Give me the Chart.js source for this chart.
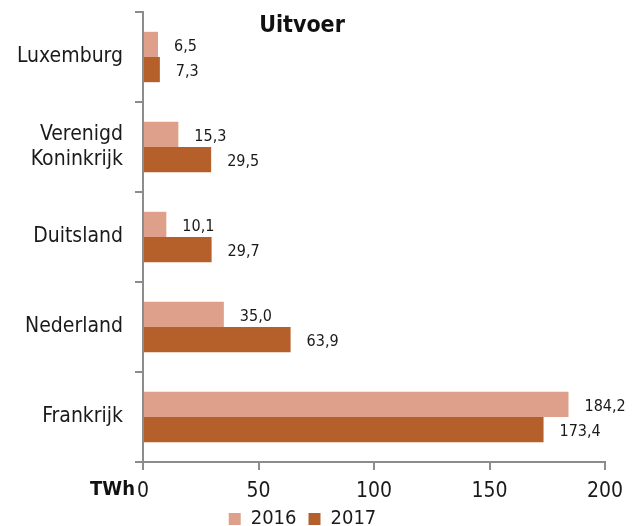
<!DOCTYPE html>
<html>
<head>
<meta charset="utf-8">
<script src="https://cdn.jsdelivr.net/npm/chart.js@4/dist/chart.umd.min.js"></script>
<style>
  html, body { margin: 0; padding: 0; background: #fff; }
  #wrap { width: 644px; height: 526px; }
</style>
</head>
<body>
<div id="wrap"><canvas id="chartUitvoer"></canvas></div>
<script>
const categories = ['Luxemburg', ['Verenigd', 'Koninkrijk'], 'Duitsland', 'Nederland', 'Frankrijk'];
const seriesNames = ['2016', '2017'];
const values2016 = [6.5, 15.3, 10.1, 35.0, 184.2];
const values2017 = [7.3, 29.5, 29.7, 63.9, 173.4];
const xTicks = [0, 50, 100, 150, 200];

const FONT = '"Liberation Sans Narrow", "DejaVu Sans Condensed", "Liberation Sans", sans-serif';
const axisGray = '#8c8c8c';

const fmt = v => v.toFixed(1).replace('.', ',');

const labelPlugin = {
    id: 'extras',
    afterDatasetsDraw(chart) {
        const ctx = chart.ctx;
        ctx.save();
        ctx.fillStyle = '#1a1a1a';
        ctx.font = '16px ' + FONT;
        ctx.textAlign = 'left';
        ctx.textBaseline = 'middle';
        chart.data.datasets.forEach((ds, i) => {
            chart.getDatasetMeta(i).data.forEach((bar, j) => {
                ctx.fillText(fmt(ds.data[j]), bar.x + 16, bar.y + 2);
            });
        });
        // title inside plot area
        const area = chart.chartArea;
        ctx.font = 'bold 23px ' + FONT;
        ctx.textAlign = 'center';
        ctx.fillStyle = '#111';
        ctx.fillText('Uitvoer', 302, area.top + 14);
        // unit label left of the x ticks
        const xs = chart.scales.x;
        ctx.font = 'bold 20px ' + FONT;
        ctx.textAlign = 'right';
        ctx.fillText('TWh', xs.left - 8, 490);
        ctx.restore();
    }
};

new Chart(document.getElementById('chartUitvoer'), {
    type: 'bar',
    data: {
        labels: categories,
        datasets: [
            { label: seriesNames[0], data: values2016, backgroundColor: '#dea08b' },
            { label: seriesNames[1], data: values2017, backgroundColor: '#b5602b' },
        ]
    },
    options: {
        indexAxis: 'y',
        responsive: true,
        maintainAspectRatio: false,
        animation: false,
        datasets: { bar: { categoryPercentage: 0.56, barPercentage: 1.0 } },
        layout: { padding: { top: 12, right: 39, left: 0, bottom: -13 } },
        plugins: {
            legend: {
                position: 'bottom',
                labels: { boxWidth: 12, boxHeight: 12, padding: 12, color: '#1a1a1a', font: { family: FONT, size: 20 } }
            },
            tooltip: { enabled: false },
            title: { display: false }
        },
        scales: {
            x: {
                min: 0, max: 200,
                afterBuildTicks: s => { s.ticks = xTicks.map(v => ({ value: v })); },
                afterFit: s => { s.height = 35; s.paddingLeft = 0; s.paddingRight = 0; },
                border: { color: axisGray, width: 2 },
                grid: { drawOnChartArea: false, drawTicks: true, tickLength: 8, color: axisGray, lineWidth: 2 },
                ticks: { color: '#1a1a1a', padding: 9, font: { family: FONT, size: 21 } }
            },
            y: {
                afterFit: s => { s.width = 143; s.paddingTop = 0; s.paddingBottom = 0; },
                border: { color: axisGray, width: 2 },
                grid: { drawOnChartArea: false, drawTicks: true, tickLength: 8, color: axisGray, lineWidth: 2 },
                ticks: { color: '#1a1a1a', padding: 12, font: { family: FONT, size: 21 } }
            }
        }
    },
    plugins: [labelPlugin]
});
</script>
</body>
</html>
